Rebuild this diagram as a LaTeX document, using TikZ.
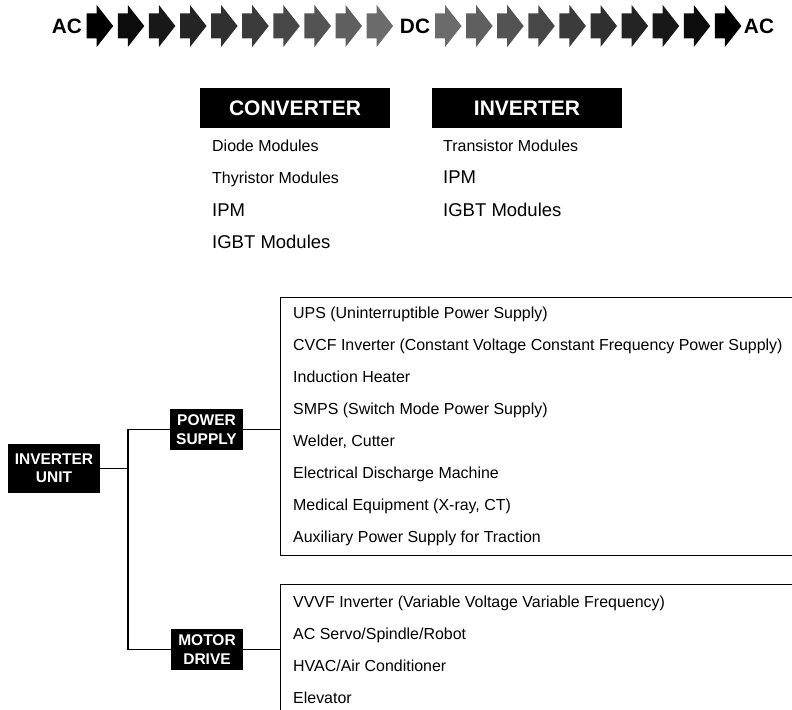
\documentclass[tikz,border=0pt]{standalone}
\usepackage{fontspec}
\setmainfont{Liberation Sans}
\begin{document}
\begin{tikzpicture}[x=1bp,y=-1bp,
 item/.style={anchor=base west, inner sep=0pt, font=\fontsize{15.95bp}{18bp}\selectfont},
 bigitem/.style={anchor=base west, inner sep=0pt, font=\fontsize{18.5bp}{21bp}\selectfont},
 head/.style={fill=black, text=white, minimum width=190bp, minimum height=40bp, inner sep=0pt, font=\bfseries\fontsize{21bp}{24bp}\selectfont},
 tag/.style={fill=black, text=white, align=center, inner sep=0pt, font=\bfseries\fontsize{15.5bp}{18.4bp}\selectfont},
 flow/.style={anchor=base, inner sep=0pt, font=\bfseries\fontsize{20.8bp}{24bp}\selectfont},
 conn/.style={line width=1.3bp},
 listbox/.style={draw, line width=1.3bp, anchor=north west, inner sep=0pt, minimum width=540bp}
]
\useasboundingbox (0,0) rectangle (792,710);
\clip (0,0) rectangle (792,710);
\fill[white] (0,0) rectangle (792,710);

% flow arrows
\foreach \i in {0,...,9}{
  \pgfmathsetmacro{\xa}{86.7+31.1*\i}
  \pgfmathsetmacro{\ka}{100-42*\i/9}
  \fill[black!\ka] (\xa,13.5) -- ++(10,0) -- ++(0,-8.5) -- ++(16.5,21) -- ++(-16.5,21) -- ++(0,-8.5) -- ++(-10,0) -- cycle;
  \pgfmathsetmacro{\xb}{435+31.1*\i}
  \pgfmathsetmacro{\kb}{58+42*\i/9}
  \fill[black!\kb] (\xb,13.5) -- ++(10,0) -- ++(0,-8.5) -- ++(16.5,21) -- ++(-16.5,21) -- ++(0,-8.5) -- ++(-10,0) -- cycle;
}
\node[flow] (ac1) at (67,33.3) {AC};
\node[flow] (dc) at (415,33.3) {DC};
\node[flow] (ac2) at (759,33.3) {AC};

% headings
\node[head] (conv) at (295,108) {CONVERTER};
\node[head] (inv) at (527,108) {INVERTER};

\node[item] (c1) at (212,151.7) {Diode Modules};
\node[item] (c2) at (212,183.3) {Thyristor Modules};
\node[bigitem] (c3) at (212,216) {IPM};
\node[bigitem] (c4) at (212,248) {IGBT Modules};

\node[item] (i1) at (443,151.7) {Transistor Modules};
\node[bigitem] (i2) at (443,183.3) {IPM};
\node[bigitem] (i3) at (443,216) {IGBT Modules};

% tree
\node[tag, minimum width=92bp, minimum height=49bp] (iu) at (54,468.5) {INVERTER\\UNIT};
\node[tag, minimum width=73bp, minimum height=41bp] (ps) at (206.5,429.5) {POWER\\SUPPLY};
\node[tag, minimum width=72bp, minimum height=41bp] (md) at (207,649.5) {MOTOR\\DRIVE};
\coordinate (j) at (128,468.5);

\node[listbox, minimum height=258bp] (pslist) at (280,297) {};
\node[listbox, minimum height=200bp] (mdlist) at (280,584) {};

\draw[conn] (iu.east) -- (j);
\draw[conn] (ps.west) -| (j);
\draw[conn] (md.west) -| (j);
\draw[conn] (ps.east) -- (pslist.west |- ps.east);
\draw[conn] (md.east) -- (mdlist.west |- md.east);

\node[item] (p1) at (293,318) {UPS (Uninterruptible Power Supply)};
\node[item] (p2) at (293,350) {CVCF Inverter (Constant Voltage Constant Frequency Power Supply)};
\node[item] (p3) at (293,382) {Induction Heater};
\node[item] (p4) at (293,414) {SMPS (Switch Mode Power Supply)};
\node[item] (p5) at (293,446) {Welder, Cutter};
\node[item] (p6) at (293,478) {Electrical Discharge Machine};
\node[item] (p7) at (293,510) {Medical Equipment (X-ray, CT)};
\node[item] (p8) at (293,542.5) {Auxiliary Power Supply for Traction};

\node[item] (m1) at (293,607) {VVVF Inverter (Variable Voltage Variable Frequency)};
\node[item] (m2) at (293,639) {AC Servo/Spindle/Robot};
\node[item] (m3) at (293,671) {HVAC/Air Conditioner};
\node[item] (m4) at (293,703) {Elevator};
\end{tikzpicture}
\end{document}
